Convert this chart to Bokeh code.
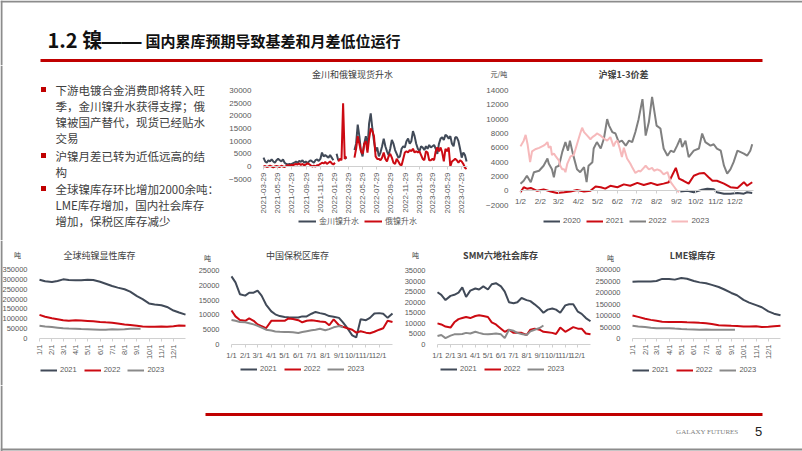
import math
import datetime as dt
import numpy as np
from bokeh.plotting import figure
from bokeh.models import Range1d, FixedTicker, Legend, LegendItem, BasicTickFormatter
from bokeh.layouts import column, row
from bokeh.embed import file_html
from bokeh.resources import INLINE
from bokeh.core.properties import value

CJK = "Noto Sans CJK SC"
NUM = "Liberation Sans"
DARK = "#414a58"
RED = "#cc0a12"
GRAY = "#8a8a8a"
PINK = "#f6b9bb"
TXT = "#595959"
BORDER = "#8c8c8c"

# ---------------- data ----------------
title_main = "1.2 镍"
title_dash = "——"
title_sub = "国内累库预期导致基差和月差低位运行"
bullet_lines = ["下游电镀合金消费即将转入旺", "季，金川镍升水获得支撑；俄", "镍被国产替代，现货已经贴水", "交易",
                "沪镍月差已转为近低远高的结", "构",
                "全球镍库存环比增加2000余吨：", "LME库存增加，国内社会库存", "增加，保税区库存减少"]
bullet_flags = [1, 0, 0, 0, 1, 0, 1, 0, 0]

# chart 1: weekly from 2021-03-29
c1_start = dt.date(2021, 3, 29)
c1_jinchuan = [3500, 2000, 1500, 2500, 2000, 2800, 2000, 1500, 2500, 3000, 2500, 2000, 2800, 1500, 1000, 800,
               1000, 800, 1200, 1500, 2000, 1500, 2200, 1800, 2500, 1500, 2000, 1200, 2000, 2500, 2000, 1500,
               2500, 2800, 2200, 3000, 5500, 4000, 4500, 4000, 3500, 4500, 3500, 2500,
               None, 5000, 2500, None, None, None, 4000, 3000, None, None, None, None,
               6500, 9000, 16500, 12000, 6000, 4000, 9000, 12000, 7000, 17000, 21000, 15000, 10000, 6000, 7500, 4000,
               5500, 8000, 11000, 8000, 6000, 4500, 7000, 10500, 9000, 6500, 5000, 3500, 4000, 7000, 8000, 7500,
               10000, 11000, 9000, 10000, 14000, 12000, 9000, 7000, 6000, 8000, 7500, 6500, 8000, 7000, 8500, 7500,
               8000, 8500, 7000, 5000, 9000, 11000, 11500, 10500, 12500, 12000, 11000, 12000, 9000, 8000, 11500, 11500,
               10000, 7000, 3500, 5500, 4500, 2000]
c1_russia = [0, 200, -200, 0, 300, 0, -300, 0, 200, 0, -200, 300, 0, -200, 200, 500,
             300, 700, 500, 800, 1000, 800, 1200, 600, 1000, 500, 800, 1200, 1000, 500, 0, 300,
             0, 500, 600, 1000, 1500, 1200, 1800, 1000, 1500, 2000, 1200, 800,
             1500, None, 2000, 3000, 2500, 25000, 3000, 4000, None, None, None, None,
             3500, 7000, 12000, 9000, 6000, 5000, 9000, 10000, 5500, 11000, 15000, 14000, 12000, 4000, 3000, 3000,
             2500, 3500, 5500, 3000, 2000, 4000, 5000, 3500, 1500, 1000, 3000, 2000, 800, 500, 3000, 5500,
             6000, 5500, 6500, 6000, 7000, 5500, 6000, 5500, 6000, 4500, 3000, 2500, 6000, 5500, 2500, 2500,
             3000, 2500, 6000, 7500, 6000, 7500, 5500, 2000, 7000, 6000, 7500, 0, 2000, 2500, 3000, 2500,
             1500, 2500, 2000, 1000, -500, -1000]
c1_tick_labels = ["2021-03-29", "2021-05-29", "2021-07-29", "2021-09-29", "2021-11-29", "2022-01-29",
                  "2022-03-29", "2022-05-29", "2022-07-29", "2022-09-29", "2022-11-29", "2023-01-29",
                  "2023-03-29", "2023-05-29", "2023-07-29"]
c1_yticks = [-5000, 0, 5000, 10000, 15000, 20000, 25000, 30000]
c1_series = ["金川镍升水", "俄镍升水"]

# chart 2: day index (1/2 -> 1)
c2_2020_x = [250, 261, 271, 282, 292, 302, 307, 318, 328, 339, 349, 354, 362]
c2_2020_y = [-100, 0, -200, 100, 300, 200, -200, -400, -400, -300, -400, -200, -300]
c2_2021_x = [1, 6, 11, 17, 27, 37, 48, 58, 69, 79, 89, 100, 110, 118, 126, 133, 141, 152, 162, 172, 183, 193,
             204, 214, 224, 232, 237, 243, 248, 255, 263, 271, 279, 287, 294, 300, 307, 318, 328, 339, 349, 354, 362]
c2_2021_y = [-200, 500, 300, 400, 0, 200, -100, -300, -200, -100, 100, -100, 0, 600, 500, 300, 700, 500, 900,
             700, 1100, 800, 1100, 800, 1000, 1200, 2100, 3200, 1700, 1400, 1000, 2100, 2400, 2500, 1900, 1400,
             1400, 1000, 500, 400, 1200, 700, 1200]
c2_2022_x = [1, 6, 11, 17, 22, 30, 37, 43, 45, 50, 53, 56, 61, 66, 71, 75, 78, 82, 84, 89, 94, 100, 104, 107,
             113, 115, 120, 126, 131, 136, 139, 144, 149, 154, 159, 165, 170, 175, 180, 185, 191, 193, 196, 201,
             206, 209, 213, 219, 224, 230, 235, 240, 245, 250, 253, 258, 263, 271, 279, 284, 289, 297, 302, 307,
             313, 318, 323, 328, 333, 339, 344, 349, 354, 359, 362]
c2_2022_y = [1000, 1400, 2100, 1200, 2600, 2800, 3500, 4500, 3800, 3000, 1900, 3300, 3500, 5400, 6800, 5600,
             7000, 5400, 4700, 3000, 2600, 3300, 1200, 3500, 4000, 5900, 6800, 5900, 7300, 10000, 9100, 8200,
             8000, 6800, 7000, 6300, 7000, 6800, 8200, 10000, 12800, 11000, 7700, 9600, 13100, 11400, 9100, 8700,
             5900, 4900, 5600, 5400, 6300, 7300, 6100, 7000, 4700, 5600, 5900, 8000, 6800, 6300, 6500, 5900, 5600,
             3500, 2400, 3000, 4000, 5600, 5400, 5200, 4900, 5600, 6500]
c2_2023_x = [1, 6, 9, 12, 16, 19, 24, 30, 37, 40, 43, 45, 48, 50, 53, 56, 61, 63, 66, 69, 71, 74, 79, 84, 89,
             94, 97, 100, 105, 110, 113, 118, 120, 126, 131, 136, 141, 146, 149, 152, 156, 159, 162, 167, 172,
             175, 180, 185, 188, 193, 196, 201, 206, 209, 214, 219, 224, 230, 235, 240, 245, 248]
c2_2023_y = [6200, 7000, 7800, 6500, 4000, 5500, 5800, 6000, 6300, 6500, 6800, 6000, 6200, 5000, 5200, 4800,
             4200, 3500, 3000, 3000, 2600, 3800, 4800, 5000, 6500, 8000, 8800, 8200, 7700, 7200, 7500, 7800, 8000,
             7700, 7300, 7000, 7500, 6200, 6800, 7000, 5800, 4700, 6000, 4500, 3800, 3300, 2500, 2800, 2700, 3200,
             3500, 3000, 3200, 2800, 3000, 2800, 2300, 2600, 1200, 600, 0, -200]
c2_ticks = [1, 32, 60, 91, 121, 152, 182, 213, 244, 274, 305, 335]
c2_tick_labels = ["1/2", "2/2", "3/2", "4/2", "5/2", "6/2", "7/2", "8/2", "9/2", "10/2", "11/2", "12/2"]
c2_yticks = [-2000, 0, 2000, 4000, 6000, 8000, 10000, 12000, 14000]
years4 = ["2020", "2021", "2022", "2023"]
years3 = ["2021", "2022", "2023"]

month_ticks = ["1/1", "2/1", "3/1", "4/1", "5/1", "6/1", "7/1", "8/1", "9/1", "10/1", "11/1", "12/1"]

# chart 3: global visible stocks, semi-monthly
c3_days = ["1/1", "1/15", "2/1", "2/15", "3/1", "3/15", "4/1", "4/15", "5/1", "5/15", "6/1", "6/15", "7/1",
           "7/15", "8/1", "8/15", "9/1", "9/15", "10/1", "10/15", "11/1", "11/15", "12/1", "12/15", "12/31"]
c3_days_2023 = c3_days[:17] + ["9/10"]
c3_2021 = [298000, 290000, 287000, 292000, 300000, 297000, 295000, 295000, 298000, 297000, 288000, 278000,
           266000, 258000, 250000, 238000, 215000, 200000, 178000, 172000, 169000, 160000, 142000, 132000, 121000]
c3_2022 = [120000, 110000, 103000, 98000, 93000, 90000, 92000, 91000, 89000, 87000, 84000, 82000, 80000,
           76000, 71000, 69000, 65000, 61000, 60000, 60000, 61000, 59000, 62000, 66000, 65000]
c3_2023 = [65000, 61000, 58000, 55000, 52000, 51000, 50000, 48000, 47000, 46000, 44000, 45000, 47000, 46000,
           47000, 49000, 50000, 50000]
c3_yticks = [0, 50000, 100000, 150000, 200000, 250000, 300000, 350000]

# chart 4 & 5: ten-day grid
g10_days = ["1/1", "1/10", "1/20", "2/1", "2/10", "2/20", "3/1", "3/10", "3/20", "4/1", "4/10", "4/20", "5/1",
            "5/10", "5/20", "6/1", "6/10", "6/20", "7/1", "7/10", "7/20", "8/1", "8/10", "8/20", "9/1", "9/10",
            "9/20", "10/1", "10/10", "10/20", "11/1", "11/10", "11/20", "12/1", "12/10", "12/20", "12/31"]
g10_days_2023 = g10_days[:26]
c4_2021 = [23000, 21000, 17000, 16500, 17500, 17500, 18200, 16500, 13500, 11200, 10200, 9600, 9300, 9200,
           9100, 9100, 9500, 9500, 10400, 11000, 10600, 10200, 9600, 9400, 9000, 7500, 5500, 3100, 2400, 8500,
           8200, 9000, 10500, 10600, 10400, 9000, 10500]
c4_2022 = [11500, 9500, 8300, 8000, 8800, 8000, 6800, 6200, 5500, 8000, 8000, 8000, 8000, 8800, 8600, 8200,
           7500, 8000, 8200, 8000, 7800, 7600, 6500, 8500, 6500, 6000, 5500, 5000, 4000, 4500, 4000, 3800, 4300,
           5000, 5500, 8000, 7600]
c4_2023 = [8300, 8000, 7600, 7500, 7200, 6800, 6300, 5700, 5000, 4700, 4400, 4300, 4200, 4200, 4100, 3900,
           4200, 4500, 4800, 5000, 5300, 4800, 5200, 5800, 6200, 5800]
c4_yticks = [0, 5000, 10000, 15000, 20000, 25000]

c5_2021 = [24700, 23500, 21000, 23000, 23500, 24500, 27000, 22500, 25500, 26500, 26000, 27500, 26000, 28500,
           29000, 27500, 25000, 20000, 19500, 20000, 22000, 21000, 20500, 19000, 17000, 15000, 16500, 17000,
           16500, 15000, 18500, 19000, 19000, 15500, 14500, 12500, 11000]
c5_2022 = [10000, 9500, 8500, 8000, 10500, 12000, 12500, 13000, 12500, 13500, 13800, 13500, 13000, 10500,
           9500, 7500, 6000, 7000, 5500, 5500, 5500, 4500, 7000, 7500, 7000, 6000, 5800, 5500, 5000, 8000, 6000,
           7000, 8200, 7500, 7500, 5200, 4800]
c5_2023 = [4000, 4500, 3000, 4200, 4800, 4800, 5000, 5500, 5200, 6000, 5500, 5000, 4800, 5000, 5200, 4800,
           3000, 7000, 6500, 5500, 5000, 4500, 6200, 7000, 7800, 9000]
c5_yticks = [0, 5000, 10000, 15000, 20000, 25000, 30000, 35000]

c6_2021 = [247000, 248000, 248000, 248000, 250000, 259000, 259000, 256000, 263000, 260000, 250000, 244000,
           240000, 233000, 224000, 213000, 198000, 188000, 168000, 156000, 145000, 136000, 118000, 108000, 101000]
c6_2022 = [100000, 94000, 86000, 81000, 77000, 73000, 72000, 72000, 72000, 71000, 70000, 68000, 66000, 63000,
           58000, 57000, 55000, 54000, 52000, 52000, 53000, 50000, 51000, 53000, 55000]
c6_2023 = [55000, 52000, 50000, 47000, 45000, 45000, 45000, 43000, 41000, 40000, 39000, 38000, 39000, 38000,
           38000, 38000, 38000, 38000]
c6_yticks = [0, 50000, 100000, 150000, 200000, 250000, 300000]

chart_titles = ["金川和俄镍现货升水", "沪镍1-3价差", "全球纯镍显性库存", "中国保税区库存", "SMM六地社会库存", "LME镍库存"]
unit_ton = "吨"
unit_yuan = "元/吨"
footer_brand = "GALAXY FUTURES"
page_no = "5"


# ---------------- helpers ----------------
def doy(md):
    m, d = map(int, md.split("/"))
    return (dt.date(2021, m, d) - dt.date(2021, 1, 1)).days + 1


def arr(vals):
    return np.array([np.nan if v is None else v for v in vals], dtype=float)


class Box:
    """Figure whose frame fills the whole canvas; maps data values onto chosen pixel spots."""

    def __init__(self, W, H, xa, xb, pa, pb, ya, yb, qa, qb):
        self.sx = (xb - xa) / (pb - pa)
        self.x0 = xa - pa * self.sx
        self.x1 = xa + (W - pa) * self.sx
        self.sy = (ya - yb) / (qb - qa)
        self.y1 = ya + qa * self.sy
        self.y0 = ya - (H - qa) * self.sy
        self.W, self.H = W, H
        p = figure(width=W, height=H, x_range=Range1d(self.x0, self.x1), y_range=Range1d(self.y0, self.y1),
                   output_backend="svg", toolbar_location=None, min_border=0)
        p.outline_line_color = None
        p.grid.visible = False
        p.title.visible = False
        self.p = p

    def X(self, px):
        return self.x0 + px * self.sx

    def Y(self, py):
        return self.y1 - py * self.sy

    def text(self, px, py, s, fs="9px", bold=False, align="center", color="#404040", font=CJK):
        self.p.text(x=[self.X(px)], y=[self.Y(py)], text=[s], text_font=value(font), text_font_size=fs,
                    text_font_style="bold" if bold else "normal", text_color=color, text_align=align,
                    text_baseline="middle")

    def hline(self, pa, pb, py, color, w):
        self.p.segment(x0=[self.X(pa)], y0=[self.Y(py)], x1=[self.X(pb)], y1=[self.Y(py)], line_color=color,
                       line_width=w)

    def vline(self, px, qa, qb, color, w):
        self.p.segment(x0=[self.X(px)], y0=[self.Y(qa)], x1=[self.X(px)], y1=[self.Y(qb)], line_color=color,
                       line_width=w)


def deco(W, H):
    b = Box(W, H, 0, W, 0, W, H, 0, 0, H)
    b.p.xaxis.visible = False
    b.p.yaxis.visible = False
    return b


def style_axes(b, xstart, xend, yticks, xticks, xlabels, fs, rot=False):
    p = b.p
    ya = p.yaxis[0]
    ya.fixed_location = xstart
    ya.ticker = FixedTicker(ticks=yticks)
    ya.formatter = BasicTickFormatter(use_scientific=False)
    ya.axis_line_color = None
    ya.major_tick_line_color = None
    ya.minor_tick_line_color = None
    ya.major_label_text_font = NUM
    ya.major_label_text_font_size = fs
    ya.major_label_text_color = TXT
    ya.major_label_standoff = 6
    xa = p.xaxis[0]
    xa.fixed_location = 0
    xa.bounds = (xstart, xend)
    xa.ticker = FixedTicker(ticks=xticks)
    xa.major_label_overrides = {t: l for t, l in zip(xticks, xlabels)}
    xa.axis_line_color = "#d0d0d0"
    xa.major_tick_line_color = "#d0d0d0"
    xa.major_tick_out = 3
    xa.major_tick_in = 0
    xa.minor_tick_line_color = None
    xa.major_label_text_font = NUM
    xa.major_label_text_font_size = fs
    xa.major_label_text_color = TXT
    xa.major_label_standoff = 3
    if rot:
        xa.major_label_orientation = math.pi / 2


def add_legend(b, rends, labels, left_px, bottom_py, fs="8px", font=NUM, gw=18, spacing=5):
    leg = Legend(items=[LegendItem(label=l, renderers=[r]) for l, r in zip(labels, rends)],
                 orientation="horizontal", location=(left_px, b.H - bottom_py), label_text_font=font,
                 label_text_font_size=fs, label_text_color=TXT, glyph_width=gw, glyph_height=8, label_height=8,
                 label_width=8, spacing=spacing, padding=0, margin=0, label_standoff=3, border_line_color=None,
                 background_fill_alpha=0)
    b.p.add_layout(leg)


# ---------------- header ----------------
hdr = deco(802, 65)
hdr.text(47, 39, title_main, fs="20px", bold=True, align="left", color="#111111")
hdr.text(101, 40, title_dash, fs="20px", bold=True, align="left", color="#111111", font=NUM)
hdr.text(145, 40, title_sub, fs="15px", bold=True, align="left", color="#111111")
hdr.hline(40, 762, 60, "#c00000", 3)
hdr.hline(0, 802, 1, BORDER, 2)
hdr.vline(1, 0, 65, BORDER, 2)

# ---------------- text block ----------------
txt = deco(225, 175)
line_py = [89, 105, 121, 137, 155, 171, 188, 204, 220]
txt.p.text(x=[txt.X(55)] * len(bullet_lines), y=[txt.Y(v - 65) for v in line_py], text=bullet_lines,
           text_font=value(CJK), text_font_size="11.5px", text_color="#404040", text_baseline="middle")
by = [txt.Y(v - 65) for v, f in zip(line_py, bullet_flags) if f]
txt.p.rect(x=[txt.X(43)] * len(by), y=by, width=5, height=5, fill_color="#c00000", line_color=None)
txt.vline(1, 0, 175, BORDER, 2)

# ---------------- chart 1 ----------------
c1_x = [7 * i for i in range(len(c1_jinchuan))]
c1_ticks = [(dt.date(int(s[:4]), int(s[5:7]), int(s[8:])) - c1_start).days for s in c1_tick_labels]
b1 = Box(253, 175, 0, 879, 38, 242, 30000, 0, 25, 101)
r1a = b1.p.line(c1_x, arr(c1_jinchuan), line_color=DARK, line_width=2)
r1b = b1.p.line(c1_x, arr(c1_russia), line_color=RED, line_width=2)
style_axes(b1, 0, 879, c1_yticks, c1_ticks, c1_tick_labels, "8px", rot=True)
b1.text(127, 9, chart_titles[0])
add_legend(b1, [r1a, r1b], c1_series, 73, 161, fs="8px", font=CJK, gw=18, spacing=5)

# ---------------- chart 2 ----------------
b2 = Box(324, 175, 1, 364, 42, 275, 14000, 0, 25, 125.3)
r20 = b2.p.line(c2_2020_x, c2_2020_y, line_color=DARK, line_width=2)
r21 = b2.p.line(c2_2021_x, c2_2021_y, line_color=RED, line_width=2)
r22 = b2.p.line(c2_2022_x, c2_2022_y, line_color="#808080", line_width=2)
r23 = b2.p.line(c2_2023_x, c2_2023_y, line_color=PINK, line_width=2)
style_axes(b2, 1, 364, c2_yticks, c2_ticks, c2_tick_labels, "8px")
b2.text(145, 9, chart_titles[1], bold=True)
b2.text(12, 8, unit_yuan, fs="7px", align="left")
add_legend(b2, [r20, r21, r22, r23], years4, 65, 160, fs="8px", gw=17, spacing=5)

mt = [doy(m) for m in month_ticks]


def bottom_chart(W, pl, pr, pt, pb, ytop, yticks, s21, s22, s23, d21, d23, title, tpos, upos, lpos, rot, bold,
                 left_edge=False):
    b = Box(W, 145, 1, 365, pl, pr, ytop, 0, pt, pb)
    p = b.p
    ra = p.line([doy(d) for d in d21], s21, line_color=DARK, line_width=2)
    rb = p.line([doy(d) for d in d21], s22, line_color=RED, line_width=2)
    rc = p.line([doy(d) for d in d23], s23, line_color=GRAY, line_width=2)
    style_axes(b, 1, 365, yticks, mt, month_ticks, "7.5px", rot=rot)
    b.text(tpos[0], tpos[1], title, bold=bold)
    b.text(upos[0], upos[1], unit_ton, fs="7px")
    add_legend(b, [ra, rb, rc], years3, lpos[0], lpos[1], fs="7.5px", gw=17, spacing=7)
    if left_edge:
        b.vline(1, 0, 145, BORDER, 2)
    return b


b3 = bottom_chart(198, 39, 185, 29, 98, 350000, c3_yticks, c3_2021, c3_2022, c3_2023, c3_days, c3_days_2023,
                  chart_titles[2], (99, 15), (17, 14), (40, 134), True, False, left_edge=True)
b4 = bottom_chart(205, 33, 194, 30, 104, 25000, c4_yticks, c4_2021, c4_2022, c4_2023, g10_days, g10_days_2023,
                  chart_titles[3], (99, 15), (9, 17), (42, 133), False, False)
b5 = bottom_chart(190, 34, 187, 30, 104, 35000, c5_yticks, c5_2021, c5_2022, c5_2023, g10_days, g10_days_2023,
                  chart_titles[4], (97, 15), (12, 14), (37, 133), False, True)
b6 = bottom_chart(209, 39, 187, 29, 98, 300000, c6_yticks, c6_2021, c6_2022, c6_2023, c3_days, c3_days_2023,
                  chart_titles[5], (99, 15), (17, 17), (39, 134), True, True)

# ---------------- footer ----------------
ftr = deco(802, 66)
ftr.hline(205, 762, 29, "#c00000", 3)
ftr.text(738, 46, footer_brand, fs="7px", align="right", color="#808080", font="Liberation Serif")
ftr.text(758, 46, page_no, fs="13px", color="#222222", font=NUM)
ftr.vline(1, 0, 66, BORDER, 2)
ftr.hline(0, 802, 64, BORDER, 2)

layout = column(hdr.p, row(txt.p, b1.p, b2.p), row(b3.p, b4.p, b5.p, b6.p), ftr.p)
open("out.html", "w").write(file_html(layout, INLINE))
